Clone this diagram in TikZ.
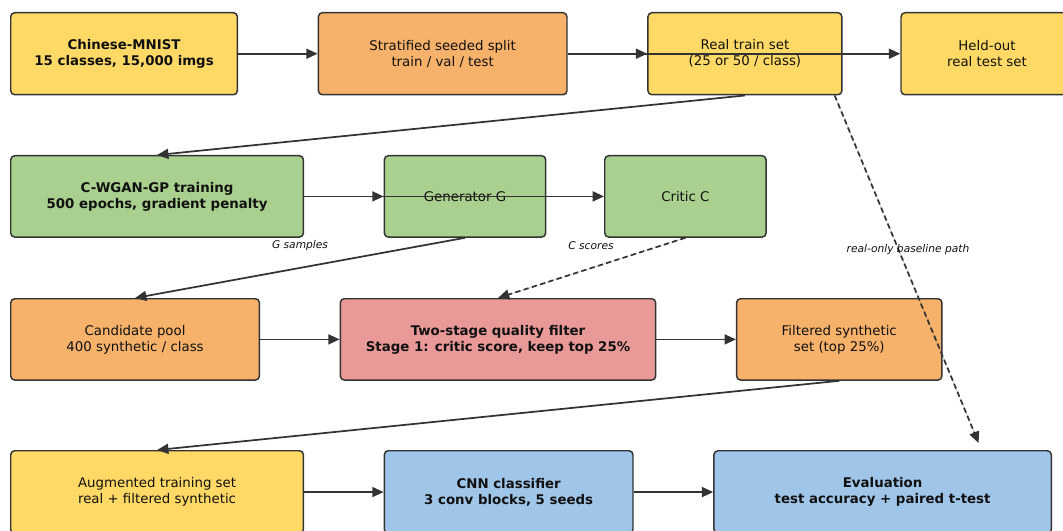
\documentclass[tikz,border=0pt]{standalone}
\usepackage{fontspec}
\setmainfont{DejaVu Sans}
\usepackage{tikz}
\usetikzlibrary{arrows.meta, positioning, calc}
\definecolor{gqYellow}{HTML}{FFD966}
\definecolor{gqOrange}{HTML}{F6B26B}
\definecolor{gqGreen}{HTML}{A9D08E}
\definecolor{gqRed}{HTML}{EA9999}
\definecolor{gqBlue}{HTML}{9FC5E8}
\definecolor{gqLine}{HTML}{333333}
\definecolor{gqText}{HTML}{111111}
\tikzset{
  gqnode/.style={rectangle, rounded corners=3pt, draw=gqLine, line width=1.1pt,
                 text=gqText, font=\fontsize{10}{12}\selectfont, align=center, inner sep=2pt},
  gqbold/.style={font=\fontsize{10}{12}\selectfont\bfseries},
  gqflow/.style={-{Triangle[length=8.5pt, width=7.5pt]}, line width=1.3pt, draw=gqLine, fill=gqLine},
  gqdash/.style={dash pattern=on 4pt off 2.5pt},
  gqnote/.style={font=\fontsize{8}{10}\selectfont\itshape, text=gqText},
}

\begin{document}
\begin{tikzpicture}[x=0.75pt, y=-0.75pt, node distance=59.6pt]
  \useasboundingbox (0,0) rectangle (1063,531);
  % data
  \node[gqnode, gqbold, fill=gqYellow, anchor=north west, minimum width=170pt, minimum height=61.5pt]
    (mnist) at (10,12) {Chinese-MNIST\\15 classes, 15,000 imgs};
  \node[gqnode, fill=gqOrange, minimum width=186.5pt, minimum height=61.5pt, right=of mnist]
    (split) {Stratified seeded split\\train / val / test};
  \node[gqnode, fill=gqYellow, minimum width=145.5pt, minimum height=61.5pt, right=of split]
    (train) {Real train set\\(25 or 50 / class)};
  \node[gqnode, fill=gqYellow, minimum width=129pt, minimum height=61.5pt, right=43.2pt of train]
    (heldout) {Held-out\\real test set};
  % GAN
  \node[gqnode, gqbold, fill=gqGreen, anchor=north west, minimum width=219.5pt, minimum height=61pt]
    (wgan) at (10,155) {C-WGAN-GP training\\500 epochs, gradient penalty};
  \node[gqnode, fill=gqGreen, minimum width=121pt, minimum height=61pt, right=of wgan]
    (gen) {Generator G};
  \node[gqnode, fill=gqGreen, minimum width=121pt, minimum height=61pt, right=43.2pt of gen]
    (critic) {Critic C};
  % filtering
  \node[gqnode, fill=gqOrange, anchor=north west, minimum width=186.5pt, minimum height=61pt]
    (pool) at (10,298) {Candidate pool\\400 synthetic / class};
  \node[gqnode, gqbold, fill=gqRed, minimum width=236.5pt, minimum height=61pt, right=of pool]
    (filter) {Two-stage quality filter\\Stage 1: critic score, keep top 25\%};
  \node[gqnode, fill=gqOrange, minimum width=154pt, minimum height=61pt, right=of filter]
    (filtered) {Filtered synthetic\\set (top 25\%)};
  % classifier
  \node[gqnode, fill=gqYellow, anchor=north west, minimum width=219.5pt, minimum height=62pt]
    (aug) at (10,450) {Augmented training set\\real + filtered synthetic};
  \node[gqnode, gqbold, fill=gqBlue, minimum width=186.5pt, minimum height=62pt, right=of aug]
    (cnn) {CNN classifier\\3 conv blocks, 5 seeds};
  \node[gqnode, gqbold, fill=gqBlue, minimum width=253pt, minimum height=62pt, right=of cnn]
    (eval) {Evaluation\\test accuracy + paired t-test};
  % flows
  \draw[gqflow] (mnist) -- (split);
  \draw[gqflow] (split) -- (train);
  \draw[gqflow] (split) -- (heldout);
  \draw[gqflow] (train.south) -- (wgan.north);
  \draw[gqflow] (wgan) -- (gen);
  \draw[gqflow] (wgan) -- (critic);
  \draw[gqflow] (gen.south) -- (pool.north);
  \draw[gqflow, gqdash] (critic.south) -- (filter.north);
  \draw[gqflow, gqdash] ([xshift=-6pt]train.south east) -- ([xshift=72pt, yshift=5.25pt]eval.north);
  \draw[gqflow] (pool) -- (filter);
  \draw[gqflow] (filter) -- (filtered);
  \draw[gqflow] (filtered.south) -- (aug.north);
  \draw[gqflow] (aug) -- (cnn);
  \draw[gqflow] (cnn) -- (eval);
  % notes
  \node[gqnote] (gnote) at (300,246) {G samples};
  \node[gqnote] (cnote) at (591,246) {C scores};
  \node[gqnote] (bnote) at (908,250) {real-only baseline path};
\end{tikzpicture}
\end{document}
